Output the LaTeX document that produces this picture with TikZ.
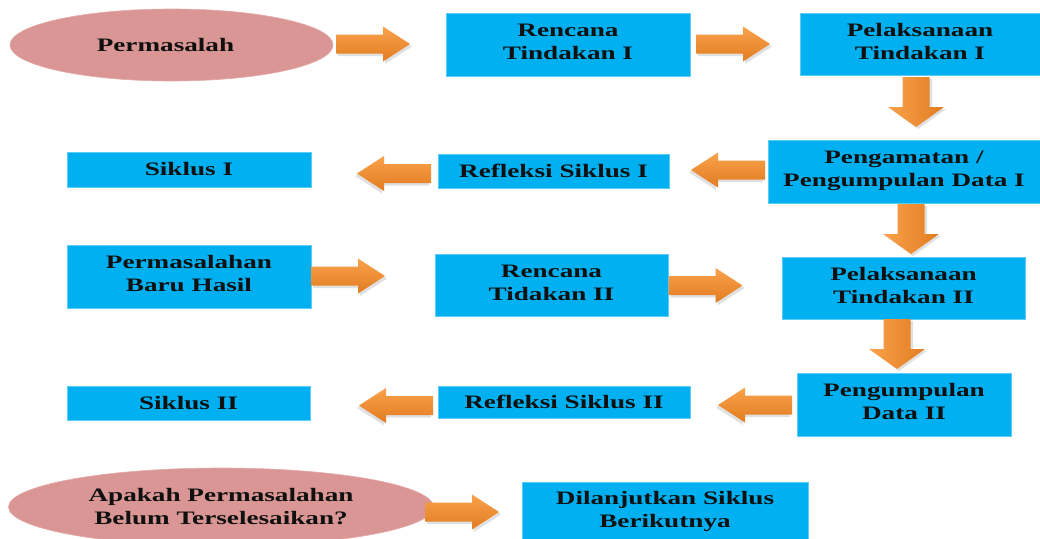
\documentclass[tikz,border=0pt]{standalone}
\usepackage{fontspec}
\newfontfamily\boxfont{Liberation Serif}[FakeStretch=1.43]
\usetikzlibrary{shapes.geometric}
\definecolor{boxblue}{HTML}{00B0F0}
\definecolor{boxedge}{HTML}{5CCBF5}
\definecolor{ellfill}{HTML}{D99694}
\definecolor{elledge}{HTML}{E3ACAA}
\definecolor{arrlight}{HTML}{F9A24B}
\definecolor{arrdark}{HTML}{E27C22}
\definecolor{txt}{HTML}{101010}
\tikzset{
  lbl/.style={font=\boxfont\bfseries\fontsize{19}{23}\selectfont, text=txt, align=center, inner sep=0pt},
  box/.style={lbl, rectangle, fill=boxblue, draw=boxedge, line width=0.8pt},
  two/.style={text height=38pt, text depth=8pt},
  oval/.style={lbl, ellipse, fill=ellfill, draw=elledge, line width=0.6pt},
  rarrow/.pic={
    \fill[black,opacity=0.12] (-35pt,-12pt) -- (12pt,-12pt) -- (12pt,-20pt) -- (39pt,-2.5pt) -- (12pt,15pt) -- (12pt,7pt) -- (-35pt,7pt) -- cycle;
    \shade[top color=arrlight,bottom color=arrdark] (-37pt,-9.5pt) -- (10pt,-9.5pt) -- (10pt,-17.5pt) -- (37pt,0pt) -- (10pt,17.5pt) -- (10pt,9.5pt) -- (-37pt,9.5pt) -- cycle;
  },
  larrow/.pic={
    \fill[black,opacity=0.12] (35pt,-12pt) -- (-12pt,-12pt) -- (-12pt,-20pt) -- (-39pt,-2.5pt) -- (-12pt,15pt) -- (-12pt,7pt) -- (35pt,7pt) -- cycle;
    \shade[top color=arrlight,bottom color=arrdark] (37pt,-9.5pt) -- (-10pt,-9.5pt) -- (-10pt,-17.5pt) -- (-37pt,0pt) -- (-10pt,17.5pt) -- (-10pt,9.5pt) -- (37pt,9.5pt) -- cycle;
  },
  darrow/.pic={
    \fill[black,opacity=0.12] (-11pt,23pt) -- (-11pt,-7pt) -- (-25pt,-7pt) -- (2pt,-27pt) -- (30pt,-7pt) -- (16pt,-7pt) -- (16pt,23pt) -- cycle;
    \shade[left color=arrlight,right color=arrdark] (-13.5pt,25pt) -- (-13.5pt,-5pt) -- (-28pt,-5pt) -- (0pt,-25pt) -- (28pt,-5pt) -- (13.5pt,-5pt) -- (13.5pt,25pt) -- cycle;
  },
}
\begin{document}
\begin{tikzpicture}[x=1pt,y=-1pt]
\useasboundingbox[fill=white] (0,0) rectangle (1040,538);
% row 1
\node[oval, minimum width=323pt, minimum height=72pt] (e1) at (171.5,45) {Permasalah\hspace*{12pt}};
\node[box, two, minimum width=244pt, minimum height=63pt] (r1) at (568,44.5) {Rencana\\Tindakan I};
\node[box, two, minimum width=240pt, minimum height=62pt] (p1) at (920,44) {Pelaksanaan\\Tindakan I};
% row 2
\node[box, two, minimum width=272pt, minimum height=63pt] (g1) at (904,171.5) {Pengamatan /\\Pengumpulan Data I};
\node[box, minimum width=231pt, minimum height=34pt] (f1) at (553.5,171) {Refleksi Siklus I};
\node[box, minimum width=244pt, minimum height=35pt] (s1) at (189,169.5) {Siklus I};
% row 3
\node[box, two, minimum width=244pt, minimum height=63pt] (b2) at (189,276.5) {Permasalahan\\Baru Hasil};
\node[box, two, minimum width=233pt, minimum height=62pt] (r2) at (551.5,285) {Rencana\\Tidakan II};
\node[box, two, minimum width=243pt, minimum height=62pt] (p2) at (903.5,288) {Pelaksanaan\\Tindakan II};
% row 4
\node[box, two, minimum width=214pt, minimum height=63pt] (d2) at (904,404.5) {Pengumpulan\\Data II};
\node[box, minimum width=252pt, minimum height=32pt] (f2) at (564,402) {Refleksi Siklus II};
\node[box, minimum width=243pt, minimum height=34pt] (s2) at (188.5,403) {Siklus II};
% row 5
\node[oval, minimum width=425pt, minimum height=78pt] (e2) at (221,507) {Apakah Permasalahan\\Belum Terselesaikan?};
\node[box, two, minimum width=286pt, minimum height=60pt] (n) at (665,512) {Dilanjutkan Siklus\\Berikutnya};
% block arrows
\pic at (373,44) {rarrow};
\pic at (733,44) {rarrow};
\pic at (916,102) {darrow};
\pic at (728,170) {larrow};
\pic at (394,173.5) {larrow};
\pic at (911,229) {darrow};
\pic at (348,276) {rarrow};
\pic at (705.5,285.5) {rarrow};
\pic at (897,344) {darrow};
\pic at (755,405) {larrow};
\pic at (396,405.5) {larrow};
\pic at (462,512) {rarrow};
\end{tikzpicture}
\end{document}
